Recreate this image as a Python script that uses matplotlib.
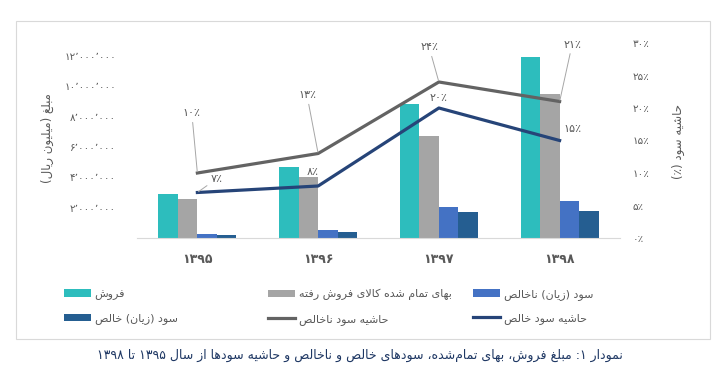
import matplotlib
matplotlib.use("Agg")
import matplotlib.pyplot as plt
from matplotlib.patches import Rectangle
from matplotlib.ticker import FuncFormatter
import numpy as np

# ---------------- data ----------------
years = ["۱۳۹۵", "۱۳۹۶", "۱۳۹۷", "۱۳۹۸"]
sales = [2.90e6, 4.66e6, 8.80e6, 11.95e6]
cogs = [2.58e6, 4.05e6, 6.70e6, 9.50e6]
gross_profit = [0.29e6, 0.55e6, 2.07e6, 2.46e6]
net_profit = [0.18e6, 0.37e6, 1.74e6, 1.80e6]
gross_margin = [10, 13, 24, 21]
net_margin = [7, 8, 20, 15]
left_ticks = [2e6, 4e6, 6e6, 8e6, 10e6, 12e6]
right_ticks = [0, 5, 10, 15, 20, 25, 30]

name_sales = "فروش"
name_cogs = "بهای تمام شده کالای فروش رفته"
name_gp = "سود (زیان) ناخالص"
name_np = "سود (زیان) خالص"
name_gm = "حاشیه سود ناخالص"
name_nm = "حاشیه سود خالص"
ylabel_left = "مبلغ (میلیون ریال)"
ylabel_right = "حاشیه سود (٪)"
caption = "نمودار ۱: مبلغ فروش، بهای تمام‌شده، سودهای خالص و ناخالص و حاشیه سودها از سال ۱۳۹۵ تا ۱۳۹۸"

# ---------------- simple Persian shaping + RTL ordering ----------------
FORMS = {
    '\u0627': ('\uFE8D', '\uFE8E', None, None),
    '\u0628': ('\uFE8F', '\uFE90', '\uFE91', '\uFE92'),
    '\u062A': ('\uFE95', '\uFE96', '\uFE97', '\uFE98'),
    '\u062D': ('\uFEA1', '\uFEA2', '\uFEA3', '\uFEA4'),
    '\u062E': ('\uFEA5', '\uFEA6', '\uFEA7', '\uFEA8'),
    '\u062F': ('\uFEA9', '\uFEAA', None, None),
    '\u0631': ('\uFEAD', '\uFEAE', None, None),
    '\u0632': ('\uFEAF', '\uFEB0', None, None),
    '\u0633': ('\uFEB1', '\uFEB2', '\uFEB3', '\uFEB4'),
    '\u0634': ('\uFEB5', '\uFEB6', '\uFEB7', '\uFEB8'),
    '\u0635': ('\uFEB9', '\uFEBA', '\uFEBB', '\uFEBC'),
    '\u063A': ('\uFECD', '\uFECE', '\uFECF', '\uFED0'),
    '\u0641': ('\uFED1', '\uFED2', '\uFED3', '\uFED4'),
    '\u0644': ('\uFEDD', '\uFEDE', '\uFEDF', '\uFEE0'),
    '\u0645': ('\uFEE1', '\uFEE2', '\uFEE3', '\uFEE4'),
    '\u0646': ('\uFEE5', '\uFEE6', '\uFEE7', '\uFEE8'),
    '\u0647': ('\uFEE9', '\uFEEA', '\uFEEB', '\uFEEC'),
    '\u0648': ('\uFEED', '\uFEEE', None, None),
    '\u06A9': ('\uFB8E', '\uFB8F', '\uFB90', '\uFB91'),
    '\u06CC': ('\uFBFC', '\uFBFD', '\uFBFE', '\uFBFF'),
    'LA': ('\uFEFB', '\uFEFC', None, None),
}
DIGITS = set("0123456789۰۱۲۳۴۵۶۷۸۹٫٬")


def fa(s):
    toks = []
    i = 0
    while i < len(s):
        if s[i] == '\u0644' and i + 1 < len(s) and s[i + 1] == '\u0627':
            toks.append('LA')
            i += 2
        else:
            toks.append(s[i])
            i += 1
    out = []
    for k, t in enumerate(toks):
        if t not in FORMS:
            if t == '\u200c':
                continue
            out.append(t)
            continue
        prev = toks[k - 1] if k > 0 else None
        nxt = toks[k + 1] if k + 1 < len(toks) else None
        jp = prev in FORMS and FORMS[prev][2] is not None
        jn = FORMS[t][2] is not None and nxt in FORMS
        f = FORMS[t]
        out.append(f[3] if (jp and jn) else f[1] if jp else f[2] if jn else f[0])
    runs = []
    for ch in out:
        isd = ch in DIGITS
        if runs and isd and runs[-1][0]:
            runs[-1][1].append(ch)
        else:
            runs.append([isd, [ch]])
    vis = []
    for isd, chs in reversed(runs):
        vis.extend(chs if isd else list(reversed(chs)))
    mirror = {'(': ')', ')': '('}
    return ''.join(mirror.get(c, c) for c in vis)


PD = str.maketrans("0123456789", "۰۱۲۳۴۵۶۷۸۹")


def pnum(v):
    return f"{int(round(v)):,}".replace(",", "٬").translate(PD)


def ppct(v):
    return f"{int(round(v))}".translate(PD) + "٪"


# ---------------- styling ----------------
plt.rcParams['font.family'] = ['DejaVu Sans']
C_SALES = '#2DBDBD'
C_COGS = '#A5A5A5'
C_GP = '#4472C4'
C_NP = '#255E91'
C_GM = '#636363'
C_NM = '#264478'
TXT = '#595959'

W, H = 718, 388
fig = plt.figure(figsize=(W / 100, H / 100), dpi=100)
fig.patch.set_facecolor('white')

# frame border
fig.add_artist(Rectangle((16 / W, 1 - 339 / H), 694 / W, 318 / H,
                         transform=fig.transFigure, fill=False,
                         edgecolor='#D9D9D9', lw=0.8))

ax = fig.add_axes([137 / W, 1 - 238 / H, 483 / W, 195 / H])
ax2 = ax.twinx()

x = np.arange(len(years))
bw = 0.1615
b1 = ax.bar(x - 1.5 * bw, sales, bw, color=C_SALES, label=fa(name_sales))
b2 = ax.bar(x - 0.5 * bw, cogs, bw, color=C_COGS, label=fa(name_cogs))
b3 = ax.bar(x + 0.5 * bw, gross_profit, bw, color=C_GP, label=fa(name_gp))
b4 = ax.bar(x + 1.5 * bw, net_profit, bw, color=C_NP, label=fa(name_np))

l1, = ax2.plot(x, gross_margin, color=C_GM, lw=2.3, label=fa(name_gm))
l2, = ax2.plot(x, net_margin, color=C_NM, lw=2.3, label=fa(name_nm))

ax.set_xlim(-0.5, len(years) - 0.5)
ax.set_ylim(0, 12.85e6)
ax2.set_ylim(0, 30)

ax.set_xticks(x)
ax.set_xticklabels(years, fontsize=9, color=TXT, fontweight='bold')
ax.set_yticks(left_ticks)
ax.yaxis.set_major_formatter(FuncFormatter(lambda v, p: pnum(v)))
ax2.set_yticks(right_ticks)
ax2.yaxis.set_major_formatter(FuncFormatter(lambda v, p: ppct(v)))

ax.tick_params(axis='x', length=0, pad=11)
ax.tick_params(axis='y', length=0, pad=15, labelsize=7.5, labelcolor=TXT)
ax2.tick_params(axis='y', length=0, pad=9, labelsize=7.5, labelcolor=TXT)

for a in (ax, ax2):
    for s in a.spines.values():
        s.set_visible(False)
ax.spines['bottom'].set_visible(True)
ax.spines['bottom'].set_color('#D9D9D9')
ax.spines['bottom'].set_linewidth(0.8)

fig.text(47 / W, 1 - 138 / H, fa(ylabel_left), rotation=90, ha='center',
         va='center', fontsize=8.5, color=TXT)
fig.text(678 / W, 1 - 141 / H, fa(ylabel_right), rotation=90, ha='center',
         va='center', fontsize=8.5, color=TXT)

# data labels (offsets in points)
gm_off = [(-4, 43), (-8, 42), (-7, 25), (9, 41)]
nm_off = [(14, 10), (-4, 10), (0, 7), (9, 8)]
gm_leader = [True, True, True, True]
nm_leader = [True, False, False, False]
for i in range(len(years)):
    ap = dict(arrowstyle='-', color='#A6A6A6', lw=0.7, shrinkA=1, shrinkB=1)
    ax2.annotate(ppct(gross_margin[i]), xy=(x[i], gross_margin[i]),
                 xytext=gm_off[i], textcoords='offset points',
                 ha='center', va='center', fontsize=8, color=TXT,
                 arrowprops=ap if gm_leader[i] else None)
    ax2.annotate(ppct(net_margin[i]), xy=(x[i], net_margin[i]),
                 xytext=nm_off[i], textcoords='offset points',
                 ha='center', va='center', fontsize=8, color=TXT,
                 arrowprops=ap if nm_leader[i] else None)

# legend: three columns, two rows each
cols = [([b1, b4], 64), ([b2, l1], 268), ([b3, l2], 473)]
for handles, px in cols:
    fig.legend(handles=handles, labels=[h.get_label() for h in handles],
               loc='upper left', bbox_to_anchor=(px / W, 1 - 289 / H),
               frameon=False, fontsize=8, handlelength=2.4,
               handletextpad=0.35, borderpad=0, borderaxespad=0,
               labelspacing=1.2, labelcolor=TXT)

fig.text(360 / W, 1 - 355 / H, fa(caption), ha='center', va='center',
         fontsize=9, color='#1F3864')

fig.savefig('out.png', dpi=100, facecolor='white')
